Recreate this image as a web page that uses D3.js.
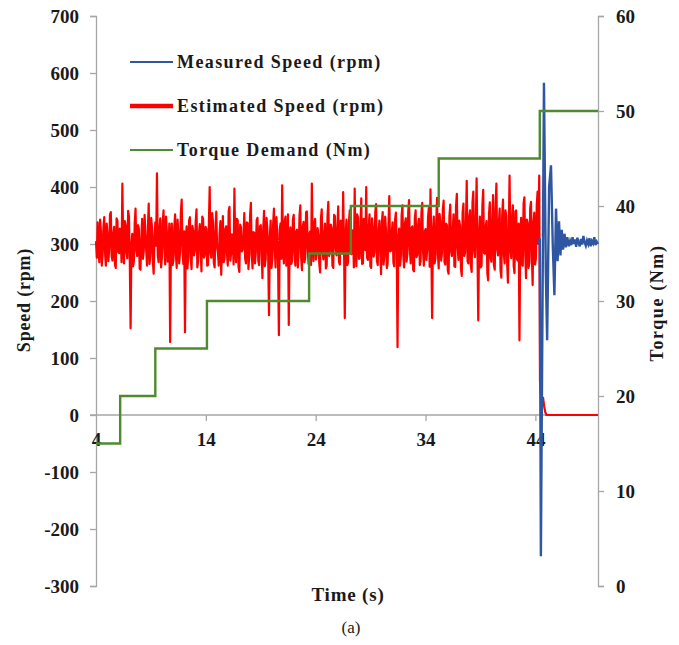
<!DOCTYPE html>
<html>
<head>
<meta charset="utf-8">
<script src="https://cdn.jsdelivr.net/npm/d3@7"></script>
<style>
  html, body { margin: 0; padding: 0; background: #ffffff; }
  svg { display: block; }
  text { font-family: "Liberation Serif", "Times New Roman", serif; fill: #1a1a1a; }
</style>
</head>
<body>
<svg id="chart" width="679" height="645"></svg>
<script>
// ---- data ----
// Estimated speed (rpm), sampled every 0.075 s from t = 4 s
const estimatedStart = 4;
const estimatedStep = 0.075;
const estimatedSpeed = [
  305, 276, 338, 291, 268, 343, 322, 262, 281, 329, 347, 284, 262, 336, 315, 270, 290, 352, 356, 279, 271, 318, 330, 264, 258, 345, 341, 286, 284, 327,
  312, 268, 406, 301, 266, 340, 333, 285, 275, 358, 349, 272, 152, 296, 318, 261, 270, 337, 362, 288, 279, 333, 327, 257, 255, 310, 344, 274, 288, 351,
  316, 287, 262, 329, 371, 265, 283, 346, 329, 270, 248, 313, 338, 297, 424, 280, 268, 325, 345, 259, 277, 339, 359, 294, 264, 348, 321, 269, 290, 336,
  128, 305, 336, 263, 272, 328, 352, 281, 258, 343, 318, 266, 286, 355, 378, 290, 265, 322, 145, 308, 331, 257, 279, 341, 347, 273, 256, 332, 323, 280,
  288, 339, 361, 259, 270, 319, 335, 292, 252, 348, 344, 276, 281, 330, 326, 262, 263, 337, 400, 284, 276, 354, 339, 267, 259, 325, 357, 295, 285, 262,
  318, 340, 246, 303, 349, 268, 274, 326, 331, 282, 262, 358, 365, 271, 283, 317, 312, 264, 397, 299, 268, 344, 342, 260, 251, 334, 329, 287, 290, 312,
  354, 275, 266, 338, 337, 256, 278, 349, 372, 283, 257, 321, 320, 266, 286, 342, 346, 270, 263, 331, 333, 292, 240, 327, 358, 261, 275, 346, 327, 280,
  175, 312, 341, 258, 272, 335, 362, 289, 259, 347, 318, 269, 140, 325, 336, 274, 403, 296, 266, 339, 348, 262, 281, 352, 158, 300, 329, 265, 270, 343,
  351, 284, 262, 322, 325, 259, 287, 349, 368, 277, 254, 330, 339, 268, 276, 356, 357, 291, 265, 318, 322, 263, 406, 305, 270, 337, 344, 273, 283, 328,
  315, 266, 250, 344, 361, 285, 273, 319, 336, 257, 262, 348, 374, 279, 289, 334, 328, 262, 258, 351, 349, 294, 280, 326, 366, 268, 264, 341, 330, 283,
  391, 302, 170, 315, 343, 263, 268, 338, 359, 286, 282, 324, 318, 259, 397, 297, 261, 352, 347, 274, 275, 331, 380, 265, 266, 344, 335, 289, 400, 276,
  272, 329, 352, 261, 258, 345, 329, 278, 285, 356, 370, 270, 263, 322, 341, 293, 247, 338, 356, 264, 279, 348, 324, 258, 266, 333, 384, 287, 288, 320,
  338, 267, 261, 342, 355, 295, 119, 310, 327, 262, 276, 351, 368, 281, 259, 336, 345, 269, 283, 357, 377, 290, 266, 328, 331, 255, 252, 346, 359, 277,
  281, 334, 344, 263, 270, 355, 372, 286, 262, 321, 326, 272, 289, 347, 363, 260, 396, 300, 170, 318, 348, 266, 275, 340, 381, 283, 257, 353, 339, 271,
  286, 361, 376, 268, 264, 336, 333, 254, 248, 349, 369, 287, 279, 326, 352, 261, 260, 366, 388, 293, 272, 341, 330, 257, 244, 355, 371, 279, 285, 333,
  411, 270, 266, 348, 359, 262, 251, 373, 392, 288, 277, 339, 415, 295, 166, 312, 348, 259, 262, 367, 395, 284, 283, 331, 340, 249, 236, 352, 373, 276,
  269, 344, 386, 263, 255, 362, 406, 290, 280, 337, 362, 254, 241, 349, 378, 282, 266, 359, 350, 268, 232, 327, 420, 291, 275, 346, 368, 261, 249, 357,
  359, 273, 271, 336, 131, 304, 346, 265, 262, 371, 382, 286, 240, 343, 337, 258, 268, 362, 374, 281, 228, 338, 355, 264, 276, 369, 392, 300, 420
];
// Estimated speed after the drive stops
const estimatedTailTime  = [44.42, 44.5, 44.55, 44.6, 44.7, 44.8, 44.9, 45.0, 49.7];
const estimatedTailSpeed = [60, 35, 45, 25, 30, 15, 5, 0, 0];

// Measured speed (rpm)
const measuredTime = [
  4, 5, 6, 7, 8, 9, 10, 11, 12, 13, 14, 15, 16, 17, 18, 19, 20, 21, 22, 23, 24,
  25, 26, 27, 28, 29, 30, 31, 32, 33, 34, 35, 36, 37, 38, 39, 40, 41, 42, 43, 44, 44.3,
  44.4, 44.5, 44.78, 44.95, 45.07, 45.25, 45.42, 45.58, 45.73, 45.88, 46.02, 46.15,
  46.28, 46.4, 46.52, 46.65, 46.78, 46.9, 47.05, 47.16, 47.27, 47.38, 47.49, 47.6,
  47.71, 47.82, 47.93, 48.04, 48.15, 48.26, 48.37, 48.48, 48.59, 48.7, 48.81, 48.92,
  49.03, 49.14, 49.25, 49.36, 49.47, 49.58, 49.7
];
const measuredSpeed = [
  302, 296, 308, 299, 304, 293, 310, 301, 297, 306, 300, 295, 309, 303, 298, 305,
  292, 307, 301, 296, 311, 299, 304, 294, 308, 302, 297, 306, 300, 293, 309, 303,
  298, 305, 296, 310, 301, 295, 307, 300, 304, 300,
  310, -248, 583, 250, 131, 400, 438, 300, 210, 362, 270, 340,
  280, 325, 290, 318, 294, 312, 296, 305, 298, 312, 300, 308,
  295, 311, 302, 296, 309, 299, 314, 303, 297, 306, 300, 310,
  296, 305, 301, 312, 298, 304, 300
];

// Torque demand (Nm), step changes
const torqueTime  = [4, 6.2, 9.4, 14.1, 23.4, 27.2, 35.2, 44.4, 49.7];
const torqueValue = [15, 20, 25, 30, 35, 40, 45, 50, 50];

// Axis ticks
const timeTicks   = [4, 14, 24, 34, 44];
const speedTicks  = [-300, -200, -100, 0, 100, 200, 300, 400, 500, 600, 700];
const torqueTicks = [0, 10, 20, 30, 40, 50, 60];

const legendLabels = ["Measured Speed (rpm)", "Estimated Speed (rpm)", "Torque Demand (Nm)"];

// ---- layout ----
const svg = d3.select("#chart");
const plotLeft = 96, plotRight = 598, plotTop = 16, plotBottom = 586;
const axisColor = "#a6a6a6";
const blue = "#2f56a3", red = "#ff0000", green = "#4f8a2e";

const x = d3.scaleLinear().domain([4, 49.7]).range([plotLeft, plotRight]);
const ySpeed = d3.scaleLinear().domain([-300, 700]).range([plotBottom, plotTop]);
const yTorque = d3.scaleLinear().domain([0, 60]).range([plotBottom, plotTop]);

// plain hyphen-minus for negative labels
const plainFormat = d => String(d);

// ---- axes ----
const leftAxis = svg.append("g").attr("transform", `translate(${plotLeft},0)`)
  .call(d3.axisLeft(ySpeed).tickValues(speedTicks).tickSize(6).tickPadding(11).tickFormat(plainFormat));
const rightAxis = svg.append("g").attr("transform", `translate(${plotRight},0)`)
  .call(d3.axisRight(yTorque).tickValues(torqueTicks).tickSize(6).tickPadding(12).tickFormat(plainFormat));
const bottomAxis = svg.append("g").attr("transform", `translate(0,${ySpeed(0)})`)
  .call(d3.axisBottom(x).tickValues(timeTicks).tickSize(6).tickPadding(12).tickFormat(plainFormat));

[leftAxis, rightAxis, bottomAxis].forEach(g => {
  g.select(".domain").attr("stroke", axisColor).attr("stroke-width", 1.3);
  g.selectAll(".tick line").attr("stroke", axisColor).attr("stroke-width", 1.3);
  g.selectAll(".tick text")
    .style("font-family", "'Liberation Serif', 'Times New Roman', serif")
    .style("font-weight", "bold").style("font-size", "19px").attr("fill", "#1a1a1a");
});
bottomAxis.select(".domain").attr("d", `M${plotLeft - 6},0H${plotRight}`);
bottomAxis.selectAll(".tick line").filter(d => d === 4).remove();

// ---- series ----
const speedLine = d3.line().x(d => x(d[0])).y(d => ySpeed(d[1]));

const measuredData = measuredTime.map((t, i) => [t, measuredSpeed[i]]);
const estimatedData = estimatedSpeed.map((v, i) => [estimatedStart + i * estimatedStep, v])
  .concat(estimatedTailTime.map((t, i) => [t, estimatedTailSpeed[i]]));
const torqueData = torqueTime.map((t, i) => [t, torqueValue[i]]);

svg.append("path").datum(measuredData.filter(d => d[0] <= 44.3))
  .attr("fill", "none").attr("stroke", blue).attr("stroke-width", 2)
  .attr("d", speedLine);

svg.append("path").datum(estimatedData)
  .attr("fill", "none").attr("stroke", red).attr("stroke-width", 2.2)
  .attr("stroke-linejoin", "round").attr("d", speedLine);

svg.append("path").datum(measuredData.filter(d => d[0] >= 44.3))
  .attr("fill", "none").attr("stroke", blue).attr("stroke-width", 2.4)
  .attr("d", speedLine);

svg.append("path").datum(torqueData)
  .attr("fill", "none").attr("stroke", green).attr("stroke-width", 2.4)
  .attr("d", d3.line().curve(d3.curveStepAfter).x(d => x(d[0])).y(d => yTorque(d[1])));

// ---- legend ----
const legendStyles = [
  { color: blue, width: 1.8 },
  { color: red, width: 4.5 },
  { color: green, width: 2.2 }
];
const legend = svg.append("g");
legendLabels.forEach((label, i) => {
  const yy = 62 + i * 44;
  legend.append("line").attr("x1", 130).attr("x2", 173).attr("y1", yy).attr("y2", yy)
    .attr("stroke", legendStyles[i].color).attr("stroke-width", legendStyles[i].width);
  legend.append("text").attr("x", 177).attr("y", yy).attr("dy", "0.33em")
    .style("font-size", "18px").style("font-weight", "bold").style("letter-spacing", "1.4px")
    .text(label);
});

// ---- titles ----
svg.append("text").attr("transform", "translate(24,300) rotate(-90)")
  .attr("text-anchor", "middle").attr("dy", "0.33em")
  .style("font-size", "18px").style("font-weight", "bold").style("letter-spacing", "0.8px")
  .text("Speed (rpm)");
svg.append("text").attr("transform", "translate(657,303) rotate(-90)")
  .attr("text-anchor", "middle").attr("dy", "0.33em")
  .style("font-size", "18px").style("font-weight", "bold").style("letter-spacing", "1.6px")
  .text("Torque  (Nm)");
svg.append("text").attr("x", 348).attr("y", 595).attr("text-anchor", "middle").attr("dy", "0.33em")
  .style("font-size", "19px").style("font-weight", "bold").style("letter-spacing", "0.8px")
  .text("Time (s)");
svg.append("text").attr("x", 351).attr("y", 627).attr("text-anchor", "middle").attr("dy", "0.33em")
  .style("font-size", "17px")
  .text("(a)");
</script>
</body>
</html>
